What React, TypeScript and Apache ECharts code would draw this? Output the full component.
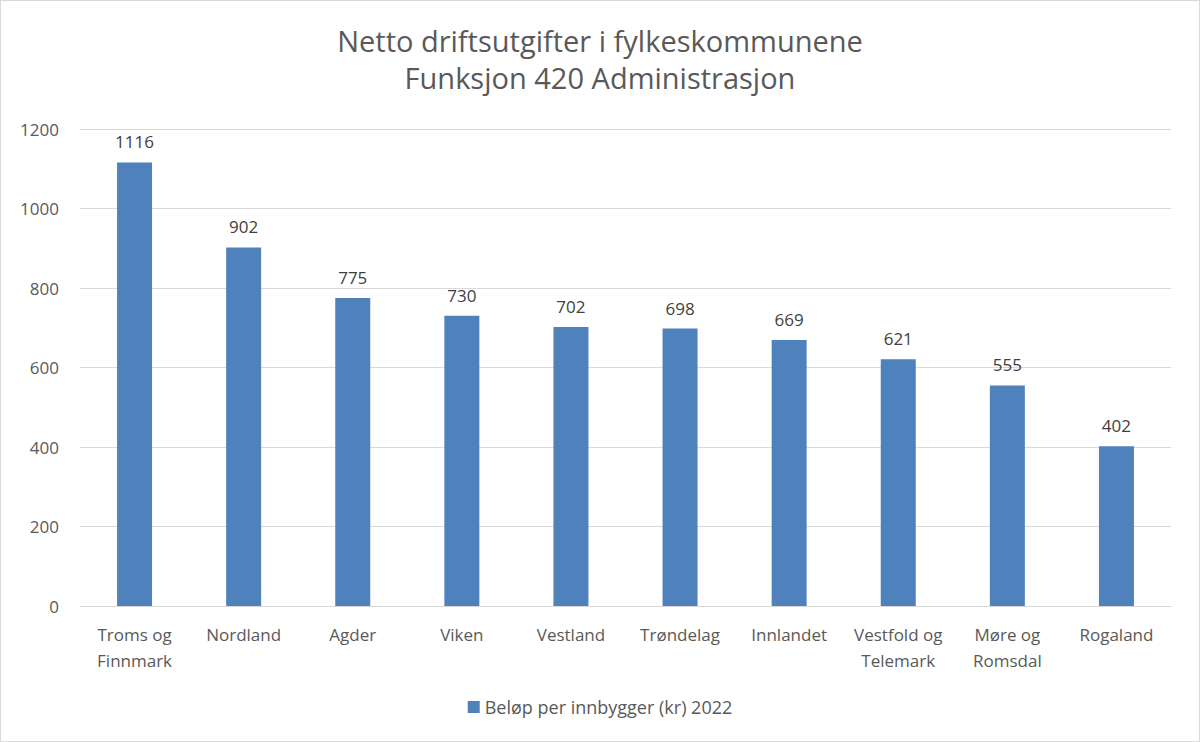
import React, { useEffect, useRef } from "react";
import * as echarts from "echarts";

const categories = [
  "Troms og\nFinnmark",
  "Nordland",
  "Agder",
  "Viken",
  "Vestland",
  "Trøndelag",
  "Innlandet",
  "Vestfold og\nTelemark",
  "Møre og\nRomsdal",
  "Rogaland",
];
const values = [1116, 902, 775, 730, 702, 698, 669, 621, 555, 402];
const seriesName = "Beløp per innbygger (kr) 2022";
const titleLines = ["Netto driftsutgifter i fylkeskommunene", "Funksjon 420 Administrasjon"];

export default function App() {
  const ref = useRef<HTMLDivElement>(null);
  useEffect(() => {
    const chart = echarts.init(ref.current!, null, { renderer: "svg" });
    const font = "'Open Sans', 'Liberation Sans', sans-serif";
    chart.setOption({
      animation: false,
      backgroundColor: "#ffffff",
      textStyle: { fontFamily: font },
      title: {
        text: titleLines.join("\n"),
        left: "center",
        top: 16,
        textStyle: { fontSize: 29, fontWeight: "normal", color: "#595959", lineHeight: 37, fontFamily: font },
      },
      grid: { left: 79, right: 28, top: 128, bottom: 135, containLabel: false },
      legend: {
        bottom: 20,
        left: "center",
        itemWidth: 12,
        itemHeight: 12,
        icon: "rect",
        textStyle: { fontSize: 18, color: "#595959", fontFamily: font },
        data: [seriesName],
      },
      xAxis: {
        type: "category",
        data: categories,
        axisLine: { lineStyle: { color: "#d9d9d9" } },
        axisTick: { show: false },
        axisLabel: { fontSize: 17, color: "#595959", margin: 15, lineHeight: 26, interval: 0 },
      },
      yAxis: {
        type: "value",
        min: 0,
        max: 1200,
        interval: 200,
        axisLine: { show: false },
        axisTick: { show: false },
        axisLabel: { fontSize: 17, color: "#595959", margin: 21, formatter: (v: number) => String(v) },
        splitLine: { lineStyle: { color: "#d9d9d9" } },
      },
      series: [
        {
          name: seriesName,
          type: "bar",
          data: values,
          barWidth: 35,
          itemStyle: { color: "#4f81bd" },
          label: { show: true, position: "top", distance: 12, fontSize: 17, color: "#404040" },
        },
      ],
    });
    return () => chart.dispose();
  }, []);
  return (
    <div
      ref={ref}
      style={{
        position: "fixed",
        left: 0,
        top: 0,
        width: 1200,
        height: 742,
        boxSizing: "border-box",
        border: "1px solid #d9d9d9",
        background: "#fff",
      }}
    />
  );
}
